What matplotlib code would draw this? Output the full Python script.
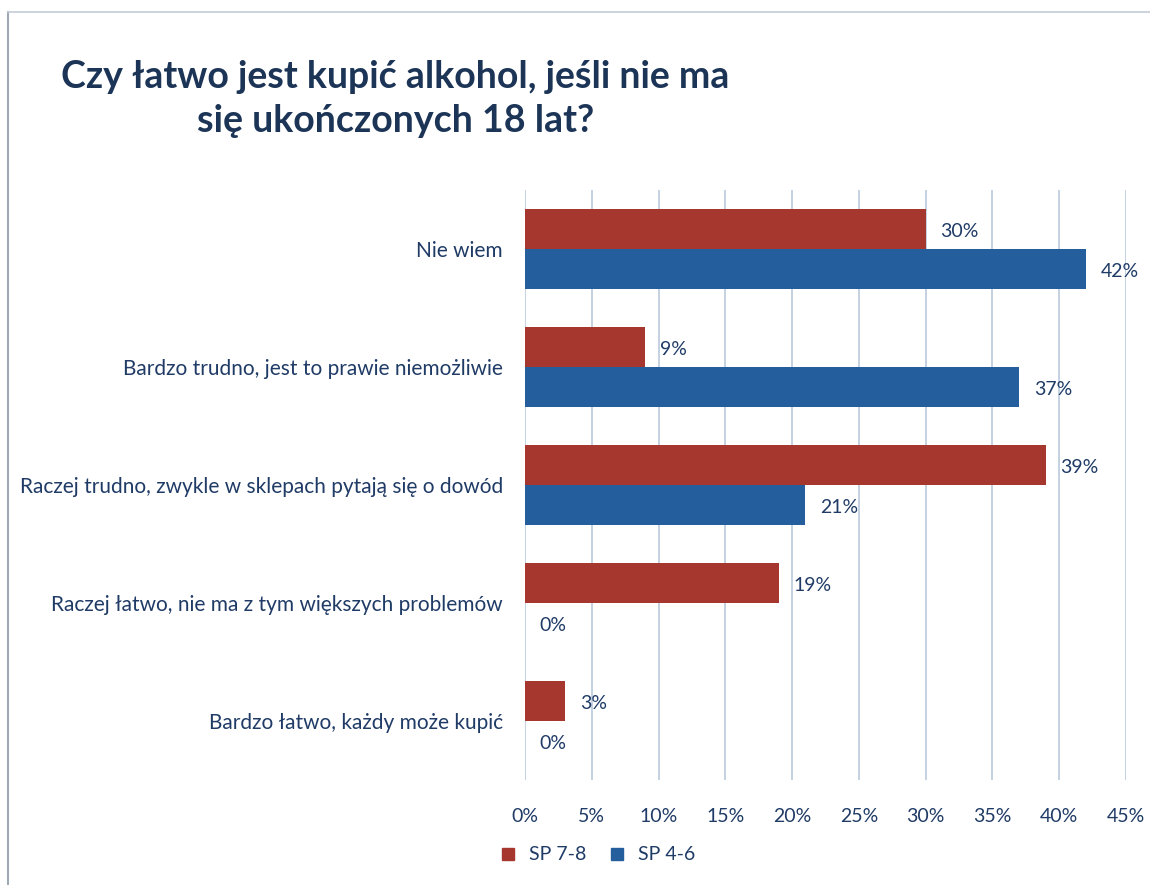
import numpy as np
import matplotlib.pyplot as plt
from matplotlib.lines import Line2D

# dane z wykresu
kategorie = ['Nie wiem',
             'Bardzo trudno, jest to prawie niemożliwie',
             'Raczej trudno, zwykle w sklepach pytają się o dowód',
             'Raczej łatwo, nie ma z tym większych problemów',
             'Bardzo łatwo, każdy może kupić']
sp78 = [30, 9, 39, 19, 3]
sp46 = [42, 37, 21, 0, 0]
serie = ['SP 7-8', 'SP 4-6']
ticki = [0, 5, 10, 15, 20, 25, 30, 35, 40, 45]

czerwony = '#A5372F'
niebieski = '#245E9C'
tekst = '#1F3B66'

plt.rcParams['font.family'] = ['Lato', 'DejaVu Sans']

fig = plt.figure(figsize=(11.5, 8.85), dpi=100)
ax = fig.add_axes([0.4565, 0.1186, 0.5225, 0.6664])

y = np.arange(len(kategorie))
h = 0.34
ax.barh(y - h / 2, sp78, height=h, color=czerwony, label=serie[0], zorder=3)
ax.barh(y + h / 2, sp46, height=h, color=niebieski, label=serie[1], zorder=3)

for i in range(len(kategorie)):
    ax.text(sp78[i] + 1.1, y[i] - h / 2 + 0.02, f'{sp78[i]}%', va='center', ha='left',
            fontsize=14, color=tekst, zorder=4)
    ax.text(sp46[i] + 1.1, y[i] + h / 2 + 0.02, f'{sp46[i]}%', va='center', ha='left',
            fontsize=14, color=tekst, zorder=4)

ax.set_xlim(0, 45)
ax.set_ylim(len(kategorie) - 0.5, -0.5)
ax.set_xticks(ticki)
ax.set_xticklabels([f'{t}%' for t in ticki], fontsize=14, color=tekst)
ax.set_yticks(y)
ax.set_yticklabels(kategorie, fontsize=15, color=tekst)
ax.tick_params(axis='both', length=0)
ax.tick_params(axis='x', pad=20)
ax.tick_params(axis='y', pad=16)
ax.grid(axis='x', color='#B9C9DD', linewidth=1.2, zorder=0)
for s in ax.spines.values():
    s.set_visible(False)

fig.text(0.344, 0.888, 'Czy łatwo jest kupić alkohol, jeśli nie ma\nsię ukończonych 18 lat?',
         ha='center', va='center', fontsize=27, fontweight='bold', color='#1C3557',
         linespacing=1.35)

uchwyty = [Line2D([], [], marker='s', linestyle='', color=czerwony, markersize=9),
           Line2D([], [], marker='s', linestyle='', color=niebieski, markersize=9)]
fig.legend(uchwyty, serie, loc='center left', bbox_to_anchor=(0.41, 0.034), ncol=2,
           frameon=False, fontsize=14, labelcolor=tekst, handletextpad=0.05,
           columnspacing=0.6)

# ramka skanu (lewa i gorna krawedz)
fig.add_artist(Line2D([0.007, 0.007], [0.0, 0.986], color='#A0A8B4', linewidth=1.5))
fig.add_artist(Line2D([0.007, 1.0], [0.986, 0.986], color='#C4CCD6', linewidth=1.2))

fig.savefig('out.png', dpi=100)
